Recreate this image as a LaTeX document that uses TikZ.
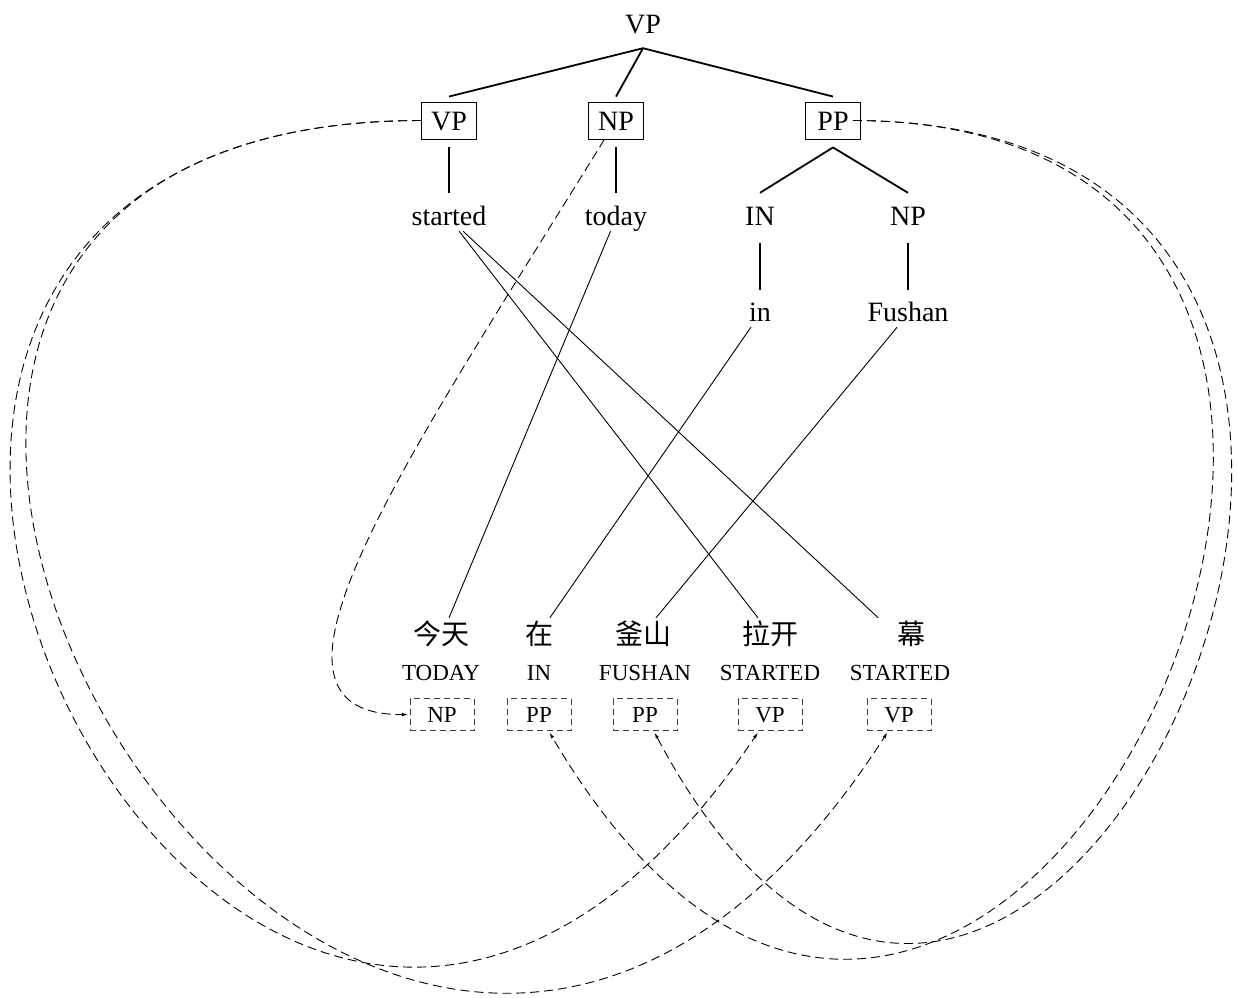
\documentclass[tikz,border=0pt]{standalone}
\usepackage{fontspec}
\setmainfont{Liberation Serif}
\newfontfamily\cjk{Noto Sans CJK SC}
\usetikzlibrary{arrows.meta}
\begin{document}
\begin{tikzpicture}[x=1pt,y=-1pt,
  lab/.style={inner sep=0pt, font=\fontsize{28}{30}\selectfont, text height=20pt, text depth=6pt},
  cbox/.style={draw, line width=0.9pt, inner sep=0pt, minimum width=55pt, minimum height=37pt,
    font=\fontsize{28}{30}\selectfont, text height=20pt, text depth=0pt},
  zh/.style={inner xsep=0pt, inner ysep=1pt, font=\cjk\fontsize{28}{30}\selectfont, text height=25pt, text depth=4pt},
  gl/.style={inner sep=0pt, font=\fontsize{23}{25}\selectfont, text height=16pt, text depth=5pt},
  dbox/.style={draw=black!75, dash pattern=on 6pt off 4pt, line width=0.9pt, inner sep=0pt,
    outer sep=2pt, minimum width=64pt, minimum height=32pt,
    font=\fontsize{23}{25}\selectfont, text height=15pt, text depth=0pt},
  te/.style={line width=1.8pt},
  tl/.style={line width=0.9pt},
  dc/.style={line width=0.9pt, dash pattern=on 9pt off 5pt, -{Latex[length=6pt,width=3.5pt]}}
]
\useasboundingbox (0,0) rectangle (1237,997);

% tree
\node[lab] (root) at (643,26) {VP};
\node[cbox] (vpb) at (449,120.5) {VP};
\node[cbox] (npb) at (616,120.5) {NP};
\node[cbox] (ppb) at (833,120.5) {PP};
\node[lab] (started) at (449,218) {started};
\node[lab] (today) at (616,218) {today};
\node[lab] (IN) at (760,218) {IN};
\node[lab] (np2) at (908,218) {NP};
\node[lab] (in) at (760,314) {in};
\node[lab] (fushan) at (908,314) {Fushan};

\draw[te] ([yshift=-9pt]root.south) -- ([yshift=5pt]vpb.north);
\draw[te] ([yshift=-9pt]root.south) -- ([yshift=5pt]npb.north);
\draw[te] ([yshift=-9pt]root.south) -- ([yshift=5pt]ppb.north);
\draw[te] ([yshift=-8pt]vpb.south) -- ([yshift=12pt]started.north);
\draw[te] ([yshift=-8pt]npb.south) -- ([yshift=12pt]today.north);
\draw[te] ([yshift=-8pt]ppb.south) -- ([yshift=12pt]IN.north);
\draw[te] ([yshift=-8pt]ppb.south) -- ([yshift=12pt]np2.north);
\draw[te] ([yshift=-12pt]IN.south) -- ([yshift=11pt]in.north);
\draw[te] ([yshift=-12pt]np2.south) -- ([yshift=11pt]fushan.north);

% Chinese words
\node[zh] (c1) at (441,633.5) {今天};
\node[zh] (c2) at (539,633.5) {在};
\node[zh] (c3) at (643,633.5) {釜山};
\node[zh] (c4) at (770,633.5) {拉开};
\node[zh] (c5) at (895,633.5) {\hspace*{32pt}幕};

% glosses
\node[gl] (g1) at (441,674.5) {TODAY};
\node[gl] (g2) at (539,674.5) {IN};
\node[gl] (g3) at (645,674.5) {FUSHAN};
\node[gl] (g4) at (770,674.5) {STARTED};
\node[gl] (g5) at (900,674.5) {STARTED};

% dashed boxes
\node[dbox] (npd) at (442,714.5) {NP};
\node[dbox] (ppd1) at (539,714.5) {PP};
\node[dbox] (ppd2) at (645,714.5) {PP};
\node[dbox] (vpd1) at (770,714.5) {VP};
\node[dbox] (vpd2) at (899,714.5) {VP};

% alignment lines
\draw[tl] (today) -- ([xshift=8pt]c1.north);
\draw[tl] (started) -- (c4);
\draw[tl] (started) -- (c5);
\draw[tl] (in) -- (c2);
\draw[tl] (fushan) -- (c3);

% reordering curves
\draw[dc] (npb) .. controls (404,464) and (230,715) .. (npd);
\draw[dc] (vpb) .. controls (-440,121) and (240,1500) .. (vpd1);
\draw[dc] (vpb) .. controls (-470,121) and (350,1565) .. (vpd2);
\draw[dc] ([xshift=-8pt]ppb.east) .. controls (1620,121) and (990,1480) .. (ppd1);
\draw[dc] ([xshift=-8pt]ppb.east) .. controls (1630,121) and (1030,1440) .. (ppd2);
\end{tikzpicture}
\end{document}
